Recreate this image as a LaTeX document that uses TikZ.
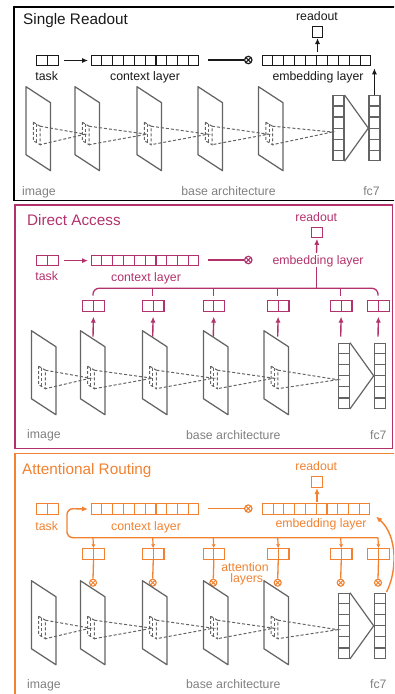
\documentclass[tikz,border=0pt]{standalone}
\usepackage{fontspec}
\setmainfont{Liberation Sans}
\usetikzlibrary{arrows.meta,calc}
\definecolor{pinkc}{RGB}{178,50,108}
\definecolor{orangec}{RGB}{240,130,50}
\definecolor{grayl}{RGB}{100,100,100}
\definecolor{grayt}{RGB}{128,128,128}
\definecolor{inkc}{RGB}{25,25,25}
\tikzset{
 cellrow/.style={draw, line width=1.1pt, inner sep=0pt, minimum height=10.5pt, anchor=north west},
 xo/.style={circle, draw, line width=1.2pt, minimum size=7.4pt, inner sep=0pt,
   path picture={\draw[line width=1pt] (path picture bounding box.north west) -- (path picture bounding box.south east)
     (path picture bounding box.north east) -- (path picture bounding box.south west);}},
 lbl/.style={font=\fontsize{12.3}{14}\selectfont, inner sep=0pt, anchor=base},
 ttl/.style={font=\fontsize{15.3}{18}\selectfont, inner sep=0pt, anchor=base west},
 glbl/.style={lbl, text=grayt},
 arr/.style={line width=1.4pt, -{Latex[length=6pt,width=5.2pt]}},
 sarr/.style={line width=1.2pt, -{Latex[length=4pt,width=4pt]}},
 plane/.style={draw=grayl, line width=1.25pt, line join=round},
 dsh/.style={draw=grayl, line width=1pt, dash pattern=on 3pt off 2pt},
}
\newcommand\hcells[5]{% name, (pos), ncells, width, color
  \node[cellrow, draw=#5, minimum width=#4pt] (#1) at #2 {};
  \pgfmathtruncatemacro\nm{#3-1}
  \foreach \k in {1,...,\nm} \draw[#5, line width=1.1pt] ($(#1.north west)!{\k/#3}!(#1.north east)$) -- ($(#1.south west)!{\k/#3}!(#1.south east)$);
}
\newcommand\vcells[3]{% name, (pos), color
  \node[draw=#3, line width=1.25pt, inner sep=0pt, minimum width=11pt, minimum height=65pt, anchor=north west] (#1) at #2 {};
  \foreach \k in {1,...,5} \draw[#3, line width=1.25pt] ($(#1.north west)!{\k/6}!(#1.south west)$) -- ($(#1.north east)!{\k/6}!(#1.south east)$);
}
\newcommand\basearch[4]{% prefix, dx, fc7 top, plane top
  \foreach \L in {26,75,137,198,258.5}{
    \draw[plane] ({\L+#2},#4) -- ++(24.5,16) -- ++(0,68) -- ++(-24.5,-16) -- cycle;
    \draw[dsh] ({\L+#2+7.3},{#4+35.5}) -- ++(6.7,4) -- ++(0,18.5) -- ++(-6.7,-4) -- cycle;
    \draw[dsh] ({\L+#2+10.5},{#4+37.5}) -- ++(0,18.5);
  }
  \vcells{#1a}{({332.3+#2},#3)}{grayl}
  \vcells{#1b}{({368.3+#2},#3)}{grayl}
  \draw[grayl, line width=1.2pt] (#1a.north east) -- (#1b.west) -- (#1a.south east);
  \coordinate (#1c) at ($(#1a.north west)+(0,37)$);
  \foreach \La/\Lb in {26/75,75/137,137/198,198/258.5}{
    \draw[dsh] ({\La+#2+14},{#4+39.5}) -- ({\Lb+#2+10},{#4+47.5}) -- ({\La+#2+14},{#4+58});
  }
  \draw[dsh] ({258.5+#2+14},{#4+39.5}) -- (#1c) -- ({258.5+#2+14},{#4+58});
}
\begin{document}
\begin{tikzpicture}[x=1pt,y=-1pt]
\useasboundingbox (0,0) rectangle (394,694);
\clip (0,0) rectangle (394,694);
% ================= Panel 1 =================
\draw[black, line width=1.4pt] (14,7) rectangle (400,200.7);
\node[ttl, text=inkc] (t1) at (23,24) {Single Readout};
\hcells{task1}{(36,54.7)}{2}{21.5}{inkc}
\node[lbl, text=inkc] (task1l) at (46.7,80) {task};
\hcells{ctx1}{(91,54.7)}{10}{107.3}{inkc}
\node[lbl, text=inkc] (ctx1l) at (145,80) {context layer};
\hcells{emb1}{(261.7,54.7)}{10}{108.3}{inkc}
\node[lbl, text=inkc] (emb1l) at (318,80) {embedding layer};
\node[xo, draw=inkc] (x1) at (248.3,60) {};
\coordinate (c1) at (208.3,60);
\draw[inkc, line width=1.4pt] (c1) -- (x1);
\draw[arr, inkc, shorten <=5.5pt, shorten >=3pt] (task1) -- (ctx1);
\node[cellrow, draw=inkc, minimum width=10.5pt] (ro1) at (311.7,26) {};
\node[lbl, text=inkc] (ro1l) at (317,20) {readout};
\draw[arr, inkc, shorten <=2.5pt, shorten >=0.5pt] (emb1.north -| ro1) -- (ro1.south);
\basearch{b1}{0}{95}{86.7}
\coordinate (a1) at ($(b1b.north)+(0,-26.7)$);
\draw[arr, inkc] (b1b.north) -- (a1);
\node[glbl, anchor=base west] (im1) at (22,195) {image};
\node[glbl] (ba1) at (228.5,195) {base architecture};
\node[glbl] (fc1) at (371.5,195) {fc7};
% ================= Panel 2 =================
\draw[pinkc, line width=1.4pt] (15,205) rectangle (392.7,448.3);
\node[ttl, text=pinkc] (t2) at (27,225) {Direct Access};
\node[lbl, text=pinkc] (ro2l) at (316.3,221.5) {readout};
\node[cellrow, draw=pinkc, minimum width=10.5pt] (ro2) at (311.2,226.7) {};
\node[lbl, text=pinkc] (emb2l) at (318,264) {embedding layer};
\coordinate (e2) at (316.5,253);
\draw[arr, pinkc, shorten >=0.5pt] (e2) -- (ro2.south);
\hcells{task2}{(36,254.8)}{2}{21.5}{pinkc}
\node[lbl, text=pinkc] (task2l) at (46.7,280.5) {task};
\hcells{ctx2}{(91,254.8)}{10}{107.3}{pinkc}
\node[lbl, text=pinkc] (ctx2l) at (146,281) {context layer};
\node[xo, draw=pinkc] (x2) at (248.3,260) {};
\coordinate (c2) at (208.3,260);
\draw[pinkc, line width=1.4pt] (c2) -- (x2);
\draw[arr, pinkc, shorten <=5.5pt, shorten >=3pt] (task2) -- (ctx2);
\coordinate (v2a) at (316.5,266.5);
\coordinate (v2b) at (316.5,288.3);
\draw[pinkc, line width=1.3pt] (v2a) -- (v2b);
\foreach \c [count=\i] in {93,152.7,213.3,277.7,340.7,378}{
  \hcells{bx2\i}{({\c-10.75},300)}{2}{21.5}{pinkc}
  \coordinate (bt2\i) at (\c,288.3);
  \coordinate (bb2\i) at (\c,295.5);
  \coordinate (ar2\i) at (\c,336.7);
  \draw[arr, pinkc, shorten >=5pt] (ar2\i) -- (bx2\i.south);
}
\draw[pinkc, line width=1.3pt, rounded corners=6pt] (bb21) -- (bt21) -- (bt26) -- (bb26);
\foreach \i in {2,3,4,5}{ \draw[pinkc, line width=1.3pt] (bt2\i) -- (bb2\i); }
\basearch{b2}{5.4}{342.7}{330.7}
\node[glbl, anchor=base west] (im2) at (27,438.5) {image};
\node[glbl] (ba2) at (233.3,439) {base architecture};
\node[glbl] (fc2) at (378.3,439) {fc7};
% ================= Panel 3 =================
\draw[orangec, line width=1.4pt] (15,700) -- (15,453.3) -- (400,453.3);
\node[ttl, text=orangec] (t3) at (22,474) {Attentional Routing};
\node[lbl, text=orangec] (ro3l) at (316.3,470.5) {readout};
\node[cellrow, draw=orangec, minimum width=10.5pt] (ro3) at (311.2,476) {};
\hcells{emb3}{(262.3,503.3)}{10}{106.7}{orangec}
\node[lbl, text=orangec] (emb3l) at (321,527) {embedding layer};
\draw[arr, orangec, shorten <=1.6pt, shorten >=0.5pt] (emb3.north -| ro3) -- (ro3.south);
\hcells{task3}{(36,503.3)}{2}{21.5}{orangec}
\node[lbl, text=orangec] (task3l) at (46.7,530) {task};
\hcells{ctx3}{(91,503.3)}{10}{107.3}{orangec}
\node[lbl, text=orangec] (ctx3l) at (146,530) {context layer};
\node[xo, draw=orangec] (x3) at (248.3,508.6) {};
\coordinate (c3) at (208.3,508.6);
\draw[orangec, line width=1.4pt] (c3) -- (x3);
\coordinate (bus3r) at (378,537.7);
\coordinate (bus3l) at (67,537.7);
\coordinate (bus3u) at (67,508.6);
\draw[arr, orangec, rounded corners=6pt, shorten >=3pt] (bus3r) -- (bus3l) -- (bus3u) -- (ctx3.west);
\foreach \c [count=\i] in {93,152.7,213.3,277.7,340.7,378}{
  \hcells{bx3\i}{({\c-10.75},548.3)}{2}{21.5}{orangec}
  \coordinate (bt3\i) at (\c,537.7);
  \draw[sarr, orangec] (bt3\i) -- (bx3\i.north);
  \node[xo, draw=orangec, line width=1.1pt, minimum size=7pt] (ox3\i) at (\c,582.7) {};
  \draw[orangec, line width=1.3pt] (bx3\i.south) -- (ox3\i.north);
}
\node[lbl, text=orangec] (att3) at (245,571.5) {attention};
\node[lbl, text=orangec] (lay3) at (246.7,582.5) {layers};
\basearch{b3}{5.4}{592.7}{580.7}
\coordinate (arcs) at (386.5,592);
\coordinate (arce) at (376,516.5);
\draw[arr, orangec] (arcs) .. controls (397,572) and (398,536) .. (arce);
\node[glbl, anchor=base west] (im3) at (27,688) {image};
\node[glbl] (ba3) at (233.3,688.5) {base architecture};
\node[glbl] (fc3) at (378.3,688.5) {fc7};
\end{tikzpicture}
\end{document}
